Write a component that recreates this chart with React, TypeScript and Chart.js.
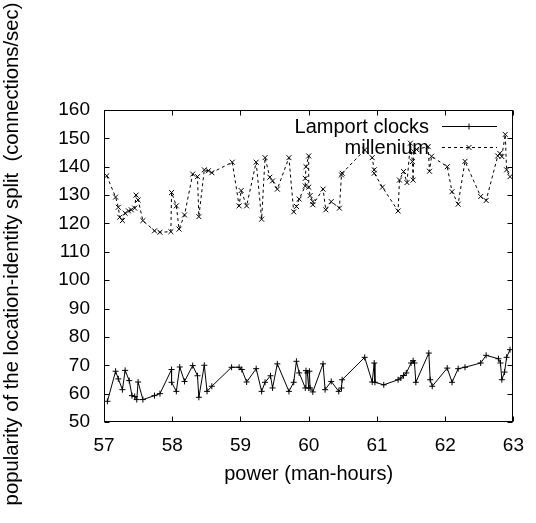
import React, { useEffect, useRef } from 'react';
import { Chart, registerables } from 'chart.js';

Chart.register(...registerables);

const seriesNames = ['Lamport clocks', 'millenium'];
const xTitle = 'power (man-hours)';
const yTitle = 'popularity of the location-identity split  (connections/sec)';
const xRange = [57, 63];
const yRange = [50, 160];

const lamportX = [
  57.05, 57.17, 57.21, 57.27, 57.31, 57.37, 57.41, 57.45, 57.48, 57.5,
  57.57, 57.74, 57.82, 57.99, 57.99, 58.06, 58.11, 58.18, 58.3, 58.37,
  58.39, 58.47, 58.51, 58.58, 58.87, 58.98, 59.02, 59.09, 59.23, 59.31,
  59.36, 59.44, 59.47, 59.54, 59.71, 59.78, 59.82, 59.86, 59.95, 59.96,
  59.98, 60.0, 60.01, 60.02, 60.06, 60.21, 60.24, 60.33, 60.44, 60.48,
  60.49, 60.82, 60.93, 60.96, 60.97, 61.1, 61.31, 61.35, 61.39, 61.43,
  61.5, 61.53, 61.55, 61.57, 61.76, 61.78, 61.81, 62.03, 62.1, 62.19,
  62.29, 62.52, 62.6, 62.78, 62.81, 62.83, 62.87, 62.9, 62.95,
];
const lamportY = [
  57.3, 67.9, 65.2, 61.4, 68.2, 64.6, 59.3, 59.0, 57.9, 64.1,
  57.9, 59.3, 60.0, 68.5, 64.0, 60.8, 69.4, 64.3, 69.9, 66.3,
  58.7, 70.0, 60.8, 62.6, 69.3, 69.3, 68.5, 64.1, 68.8, 60.8,
  64.0, 66.3, 62.0, 70.5, 60.8, 64.0, 71.4, 67.3, 62.0, 68.1,
  67.3, 62.0, 67.9, 62.0, 60.6, 70.5, 61.4, 64.3, 60.8, 62.0,
  64.9, 72.8, 64.1, 70.8, 64.0, 63.1, 64.9, 65.5, 66.4, 67.3,
  70.8, 71.6, 70.8, 64.0, 74.3, 64.9, 62.6, 69.0, 64.0, 68.8,
  69.3, 70.8, 73.5, 72.3, 70.8, 64.9, 67.6, 72.8, 75.5,
];

const milleniumX = [
  57.04, 57.17, 57.21, 57.23, 57.27, 57.31, 57.36, 57.4, 57.45, 57.47,
  57.5, 57.57, 57.74, 57.82, 57.98, 57.99, 58.06, 58.1, 58.18, 58.3,
  58.37, 58.39, 58.47, 58.53, 58.58, 58.88, 58.98, 59.01, 59.09, 59.23,
  59.31, 59.36, 59.43, 59.47, 59.54, 59.71, 59.78, 59.82, 59.86, 59.95,
  59.95, 59.96, 60.0, 60.0, 60.02, 60.06, 60.06, 60.21, 60.25, 60.33,
  60.45, 60.48, 60.49, 60.82, 60.93, 60.96, 60.96, 61.08, 61.31, 61.33,
  61.39, 61.44, 61.49, 61.52, 61.53, 61.54, 61.58, 61.75, 61.77, 61.8,
  62.03, 62.1, 62.19, 62.29, 62.52, 62.6, 62.77, 62.8, 62.83, 62.88,
  62.9, 62.95,
];
const milleniumY = [
  136.8, 129.3, 125.7, 122.2, 121.0, 123.6, 124.4, 124.8, 125.4, 130.0,
  128.3, 121.0, 117.4, 116.9, 117.1, 130.9, 126.2, 118.0, 123.0, 137.4,
  136.5, 122.4, 138.9, 138.6, 137.9, 141.6, 126.2, 131.6, 126.2, 141.6,
  121.5, 143.2, 136.3, 135.0, 132.1, 143.2, 124.1, 126.0, 128.6, 133.2,
  135.9, 140.0, 143.8, 132.8, 129.8, 127.7, 126.6, 132.1, 124.8, 127.7,
  125.4, 137.1, 137.7, 145.9, 143.2, 138.9, 137.7, 132.8, 124.4, 135.3,
  138.3, 134.4, 148.3, 141.8, 135.3, 145.3, 146.1, 147.1, 138.4, 143.7,
  140.0, 131.2, 126.8, 141.9, 129.5, 128.1, 143.8, 144.7, 143.6, 151.4,
  138.9, 136.5,
];

const FONT = '"Liberation Sans", Arial, Helvetica, sans-serif';
const INK = '#000000';

function toPoints(xs: number[], ys: number[]) {
  return xs.map((x, i) => ({ x, y: ys[i] }));
}

function drawMarker(ctx: CanvasRenderingContext2D, style: string, x: number, y: number, r: number) {
  ctx.beginPath();
  if (style === 'cross') {
    ctx.moveTo(x - r, y);
    ctx.lineTo(x + r, y);
    ctx.moveTo(x, y - r);
    ctx.lineTo(x, y + r);
  } else {
    const d = r * Math.SQRT1_2;
    ctx.moveTo(x - d, y - d);
    ctx.lineTo(x + d, y + d);
    ctx.moveTo(x - d, y + d);
    ctx.lineTo(x + d, y - d);
  }
  ctx.stroke();
}

const framePlugin = {
  id: 'gnuplotFrame',
  afterDatasetsDraw(chart: any) {
    const { ctx, chartArea, scales } = chart;
    const { left, right, top, bottom } = chartArea;
    const L = Math.round(left) + 0.5;
    const R = Math.round(right) - 0.5;
    const T = Math.round(top) + 0.5;
    const B = Math.round(bottom) - 0.5;
    const tl = 5;
    ctx.save();
    ctx.strokeStyle = INK;
    ctx.lineWidth = 1;
    ctx.setLineDash([]);
    ctx.beginPath();
    scales.x.ticks.forEach((t: any) => {
      const px = Math.round(scales.x.getPixelForValue(t.value)) + 0.5;
      ctx.moveTo(px, B);
      ctx.lineTo(px, B - tl);
      ctx.moveTo(px, T);
      ctx.lineTo(px, T + tl);
    });
    scales.y.ticks.forEach((t: any) => {
      const py = Math.round(scales.y.getPixelForValue(t.value)) + 0.5;
      ctx.moveTo(L, py);
      ctx.lineTo(L + tl, py);
      ctx.moveTo(R, py);
      ctx.lineTo(R - tl, py);
    });
    ctx.stroke();
    ctx.strokeRect(L, T, R - L, B - T);
    ctx.restore();
  },
};

const sideLegendPlugin = {
  id: 'gnuplotLegend',
  afterDatasetsDraw(chart: any) {
    const { ctx } = chart;
    ctx.save();
    ctx.font = `20px ${FONT}`;
    ctx.fillStyle = INK;
    ctx.textAlign = 'right';
    ctx.textBaseline = 'middle';
    chart.data.datasets.forEach((ds: any, i: number) => {
      const y = 126 + i * 21;
      ctx.fillText(ds.label, 429, y + 1);
      ctx.strokeStyle = INK;
      ctx.lineWidth = 1;
      ctx.setLineDash(ds.borderDash || []);
      ctx.beginPath();
      ctx.moveTo(442, y + 0.5);
      ctx.lineTo(497, y + 0.5);
      ctx.stroke();
      ctx.setLineDash([]);
      drawMarker(ctx, ds.pointStyle, 469, y + 0.5, ds.pointRadius);
    });
    ctx.restore();
  },
};

const yTitlePlugin = {
  id: 'yTitle',
  afterDraw(chart: any) {
    const { ctx } = chart;
    ctx.save();
    ctx.font = `20.3px ${FONT}`;
    ctx.fillStyle = INK;
    ctx.textAlign = 'center';
    ctx.textBaseline = 'middle';
    ctx.translate(12, 254);
    ctx.rotate(-Math.PI / 2);
    ctx.fillText(yTitle, 0, 0);
    ctx.restore();
  },
};

export default function App() {
  const ref = useRef<HTMLCanvasElement | null>(null);

  useEffect(() => {
    if (!ref.current) return;
    const chart = new Chart(ref.current, {
      type: 'scatter',
      data: {
        datasets: [
          {
            label: seriesNames[0],
            data: toPoints(lamportX, lamportY),
            showLine: true,
            borderColor: INK,
            backgroundColor: INK,
            borderWidth: 1,
            pointStyle: 'cross',
            pointRadius: 3,
            pointBorderWidth: 1,
            pointBorderColor: INK,
          },
          {
            label: seriesNames[1],
            data: toPoints(milleniumX, milleniumY),
            showLine: true,
            borderColor: INK,
            backgroundColor: INK,
            borderWidth: 1,
            borderDash: [3, 3],
            pointStyle: 'crossRot',
            pointRadius: 3.5,
            pointBorderWidth: 1,
            pointBorderColor: INK,
          },
        ],
      },
      options: {
        responsive: false,
        animation: false,
        layout: { padding: { top: 110, right: 14, left: 0, bottom: 0 } },
        plugins: {
          legend: { display: false },
          tooltip: { enabled: false },
        },
        scales: {
          x: {
            type: 'linear',
            min: xRange[0],
            max: xRange[1],
            grid: { display: false, drawTicks: false },
            border: { display: false },
            ticks: {
              stepSize: 1,
              padding: 12,
              color: INK,
              font: { family: FONT, size: 19 },
              maxRotation: 0,
            },
            title: {
              display: true,
              text: xTitle,
              color: INK,
              font: { family: FONT, size: 20 },
              padding: { top: 0, bottom: 37 },
            },
            afterFit: (s: any) => {
              s.height = 101;
            },
          },
          y: {
            type: 'linear',
            min: yRange[0],
            max: yRange[1],
            grid: { display: false, drawTicks: false },
            border: { display: false },
            ticks: {
              stepSize: 10,
              padding: 14,
              color: INK,
              font: { family: FONT, size: 19 },
            },
            afterFit: (s: any) => {
              s.width = 104;
            },
          },
        },
      },
      plugins: [framePlugin, sideLegendPlugin, yTitlePlugin],
    });
    return () => chart.destroy();
  }, []);

  return (
    <div style={{ position: 'fixed', left: 0, top: 0, width: 536, height: 523, background: '#fff' }}>
      <canvas ref={ref} width={536} height={523} style={{ display: 'block' }} />
    </div>
  );
}
